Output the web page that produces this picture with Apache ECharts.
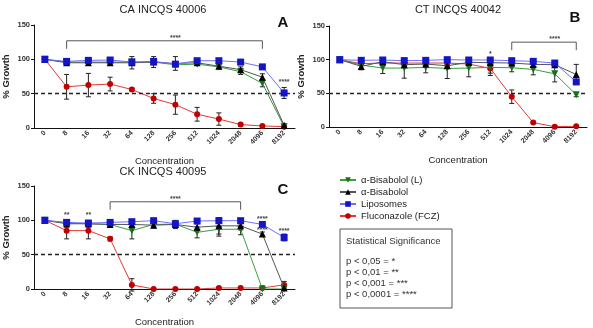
<!DOCTYPE html>
<html><head><meta charset="utf-8">
<script src="https://cdn.jsdelivr.net/npm/echarts@6/dist/echarts.min.js"></script>
<style>html,body{margin:0;padding:0;background:#fff}#c{width:593px;height:328px}</style>
</head><body><div id="c"></div>
<script>
const categories = ['0','8','16','32','64','128','256','512','1024','2048','4096','8192'];
const yTicks = [0, 50, 100, 150];
const seriesNames = ['α-Bisabolol (L)', 'α-Bisabolol', 'Liposomes', 'Fluconazole (FCZ)'];
const panelTitles = ['CA INCQS 40006', 'CT INCQS 40042', 'CK INCQS 40095'];
const panelLetters = ['A', 'B', 'C'];

// Panel A
const greenA = [100,96,96,96,96,96,92,93,89,82,65,2];
const blackA = [100,95,95,95,95,96,94,95,90,85,74,4];
const blueA  = [100,97,98.5,99,96,97,93,98,98,96,89,51];
const redA   = [100,60,62.5,64,56,43,34,20,13,5,3,2];
const errGreenA = [0,2,2,2,3,3,3,2,3,4,5,2];
const errBlackA = [0,3,3,3,9,8,10,2,3,4,5,2];
const errBlueA  = [0,2,2,2,2,2,2,2,2,2,3,8];
const errRedA   = [0,18,17,10,2,7,14,10,9,2,1,1];

// Panel B
const greenB = [100,92,87.5,87.5,88.5,87,87.5,88.5,88,85.5,79,48];
const blackB = [100,90,97,92.5,93.5,91,96,95.5,95,93,92.5,78];
const blueB  = [100,99,99.5,98.5,99,100,99.5,99.5,98.5,97.5,95,67];
const redB   = [100,94,95,95,95,95,93.5,87,45,6.5,0.5,1];
const errGreenB = [0,5,8,15,8,15,13,12,6,8,12,3];
const errBlackB = [0,5,3,3,3,3,3,3,3,3,3,15];
const errBlueB  = [0,2,2,2,2,2,2,2,2,2,2,3];
const errRedB   = [0,2,2,2,2,2,2,7,10,1,0.5,0.5];

// Panel C
const greenC = [100,96,95,94,85,94,94.5,82.5,87,87,0,0];
const blackC = [100,95,95,94,94,93,94,90,92,92,80,1.5];
const blueC  = [100,97,96,97,98,99.5,95,99,99.5,99.5,94,75];
const redC   = [100,85,85,73,6,0,0,0,1.5,1.5,1.5,6];
const errGreenC = [0,3,3,3,12,3,4,8,10,8,0,0];
const errBlackC = [0,5,5,3,3,4,6,5,12,6,3,2];
const errBlueC  = [0,2,2,2,2,2,3,2,2,2,3,5];
const errRedC   = [0,12,12,3,9,0,0,0,1,1,1,5];

// Significance annotations: brackets [fromCat, toCat, level], marks [cat, level, text]
const bracketsA = [[1, 10, 127]];
const starsA = [[5.5, 131, '****'], [11, 67, '****']];
const bracketsB = [[8, 11, 126]];
const starsB = [[9.5, 130, '****'], [7, 108, '*']];
const bracketsC = [[3, 9, 127]];
const starsC = [[6, 131, '****'], [1, 108, '**'], [2, 108, '**'], [10, 102, '****'], [10, 86, '****'], [11, 84, '****']];

const sigLines = ['Statistical Significance', '', 'p < 0,05 = *', 'p < 0,01 = **', 'p < 0,001 = ***', 'p < 0,0001 = ****'];

const FONT = 'Arial, "Liberation Sans", sans-serif';
const styles = [
  {line:'#3c9c3c', mark:'#17701a', symbol:'triangle', rotate:180, size:7},
  {line:'#555555', mark:'#000000', symbol:'triangle', rotate:0, size:7},
  {line:'#6f6fff', mark:'#1515c8', symbol:'rect', rotate:0, size:7},
  {line:'#e03a3a', mark:'#c00000', symbol:'circle', rotate:0, size:6}
];

const panels = [
  {vals:[greenA,blackA,blueA,redA], errs:[errGreenA,errBlackA,errBlueA,errRedA], br:bracketsA, st:starsA,
   grid:{left:34, top:25, width:261, height:103}},
  {vals:[greenB,blackB,blueB,redB], errs:[errGreenB,errBlackB,errBlueB,errRedB], br:bracketsB, st:starsB,
   grid:{left:329, top:26, width:258, height:101}},
  {vals:[greenC,blackC,blueC,redC], errs:[errGreenC,errBlackC,errBlueC,errRedC], br:bracketsC, st:starsC,
   grid:{left:34, top:186, width:261, height:103}}
];

const grids = [], xAxes = [], yAxes = [], series = [];
const drawOrder = [3, 0, 1, 2];

panels.forEach((p, pi) => {
  grids.push(p.grid);
  xAxes.push({
    type:'category', gridIndex:pi, data:categories, boundaryGap:true,
    name:'Concentration', nameLocation:'middle', nameGap:28,
    nameTextStyle:{fontSize:9.5, color:'#222', fontFamily:FONT},
    axisLine:{lineStyle:{color:'#111', width:1}},
    axisTick:{alignWithLabel:true, length:3, lineStyle:{color:'#111'}},
    axisLabel:{rotate:45, fontSize:7, fontWeight:'bold', color:'#333', margin:4, fontFamily:FONT, interval:0}
  });
  yAxes.push({
    type:'value', gridIndex:pi, min:yTicks[0], max:yTicks[yTicks.length-1], interval:50,
    name:'% Growth', nameLocation:'middle', nameGap:23,
    nameTextStyle:{fontSize:9.5, fontWeight:'bold', color:'#222', fontFamily:FONT},
    axisLine:{show:true, lineStyle:{color:'#111', width:1}},
    axisTick:{show:true, length:3, lineStyle:{color:'#111'}},
    splitLine:{show:false},
    axisLabel:{fontSize:7.5, fontWeight:'bold', color:'#333', margin:4, fontFamily:FONT}
  });
  // error bars
  drawOrder.forEach(si => {
    const data = [];
    p.vals[si].forEach((v, i) => { const e = p.errs[si][i]; if (e > 0) data.push([i, v - e, v + e]); });
    series.push({
      type:'custom', xAxisIndex:pi, yAxisIndex:pi, z:3, silent:true,
      data, encode:{x:0, y:[1,2]},
      renderItem:(params, api) => {
        const a = api.coord([api.value(0), api.value(1)]);
        const b = api.coord([api.value(0), api.value(2)]);
        const w = 2.5;
        const st = {stroke:'#222', lineWidth:1};
        return {type:'group', children:[
          {type:'line', shape:{x1:a[0], y1:a[1], x2:b[0], y2:b[1]}, style:st},
          {type:'line', shape:{x1:a[0]-w, y1:a[1], x2:a[0]+w, y2:a[1]}, style:st},
          {type:'line', shape:{x1:b[0]-w, y1:b[1], x2:b[0]+w, y2:b[1]}, style:st}
        ]};
      }
    });
  });
  // lines
  drawOrder.forEach((si, k) => {
    const s = styles[si];
    const ser = {
      type:'line', name:seriesNames[si], xAxisIndex:pi, yAxisIndex:pi, data:p.vals[si],
      symbol:s.symbol, symbolSize:s.size, symbolRotate:s.rotate, showAllSymbol:true,
      lineStyle:{color:s.line, width:1}, itemStyle:{color:s.mark},
      z:4 + k, animation:false
    };
    if (k === 0) {
      ser.markLine = {silent:true, symbol:'none', label:{show:false},
        lineStyle:{color:'#222', type:[4,3], width:1.3}, data:[{yAxis:50}]};
    }
    series.push(ser);
  });
  // brackets
  series.push({
    type:'custom', xAxisIndex:pi, yAxisIndex:pi, z:10, silent:true, data:p.br,
    renderItem:(params, api) => {
      const a = api.coord([api.value(0), api.value(2)]);
      const b = api.coord([api.value(1), api.value(2)]);
      return {type:'polyline', shape:{points:[[a[0], a[1]+8],[a[0], a[1]],[b[0], b[1]],[b[0], b[1]+8]]},
        style:{stroke:'#555', lineWidth:1, fill:null}};
    }
  });
  series.push({
    type:'custom', xAxisIndex:pi, yAxisIndex:pi, z:10, silent:true, data:p.st,
    renderItem:(params, api) => {
      const item = p.st[params.dataIndex];
      const c = api.coord([item[0], item[1]]);
      return {type:'text', x:c[0], y:c[1], style:{text:item[2], align:'center', verticalAlign:'middle',
        font:'bold 7px ' + FONT, fill:'#444'}};
    }
  });
});

const graphics = [
  {type:'text', x:163, y:10, style:{text:panelTitles[0], align:'center', verticalAlign:'middle', font:'11px ' + FONT, fill:'#222'}},
  {type:'text', x:458, y:10, style:{text:panelTitles[1], align:'center', verticalAlign:'middle', font:'11px ' + FONT, fill:'#222'}},
  {type:'text', x:163, y:172, style:{text:panelTitles[2], align:'center', verticalAlign:'middle', font:'11px ' + FONT, fill:'#222'}},
  {type:'text', x:283, y:23, style:{text:panelLetters[0], align:'center', verticalAlign:'middle', font:'bold 15px ' + FONT, fill:'#111'}},
  {type:'text', x:575, y:18, style:{text:panelLetters[1], align:'center', verticalAlign:'middle', font:'bold 15px ' + FONT, fill:'#111'}},
  {type:'text', x:283, y:190, style:{text:panelLetters[2], align:'center', verticalAlign:'middle', font:'bold 15px ' + FONT, fill:'#111'}},
  {type:'rect', shape:{x:340, y:229, width:112, height:79}, style:{stroke:'#555', lineWidth:1, fill:'#fff'}}
];
sigLines.forEach((t, i) => {
  const y = i === 0 ? 241 : 261 + (i - 2) * 11;
  if (t) graphics.push({type:'text', x:346, y, style:{text:t, align:'left', verticalAlign:'middle', font:'9.5px ' + FONT, fill:'#333'}});
});

const chart = echarts.init(document.getElementById('c'));
chart.setOption({
  animation:false,
  backgroundColor:'#fff',
  grid:grids, xAxis:xAxes, yAxis:yAxes, series,
  legend:{orient:'vertical', left:334, top:170, itemWidth:16, itemHeight:7, itemGap:2,
    textStyle:{fontSize:9.5, color:'#222', fontFamily:FONT}, data:seriesNames, selectedMode:false},
  graphic:graphics
});
</script></body></html>
